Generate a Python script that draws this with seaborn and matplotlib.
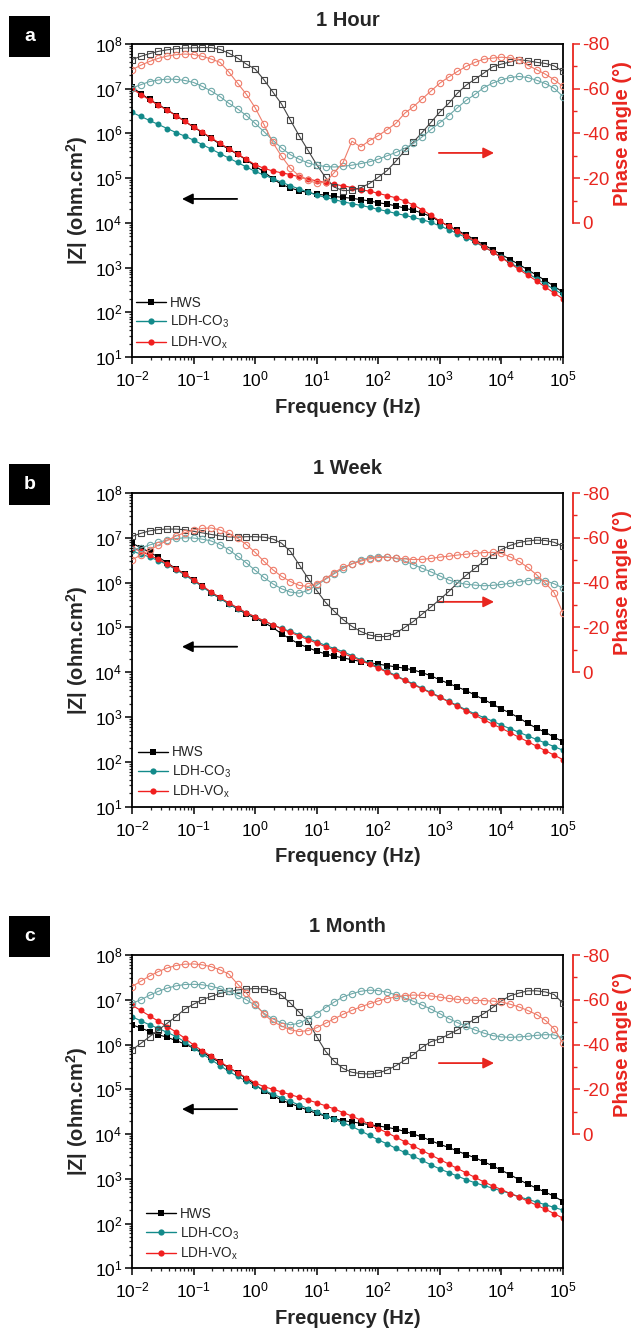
import numpy as np
import pandas as pd
import matplotlib
matplotlib.use("Agg")
import matplotlib.pyplot as plt
import seaborn as sns
from matplotlib.ticker import LogLocator, NullFormatter, FixedLocator, LogFormatterSciNotation
from matplotlib.patches import Rectangle
from matplotlib.lines import Line2D

sns.set_theme(style="ticks")
plt.rcParams["font.family"] = ["Liberation Sans", "DejaVu Sans"]
plt.rcParams["mathtext.fontset"] = "custom"
plt.rcParams["mathtext.rm"] = "Liberation Sans"
plt.rcParams["mathtext.it"] = "Liberation Sans:italic"
plt.rcParams["mathtext.bf"] = "Liberation Sans:bold"
plt.rcParams["axes.unicode_minus"] = False

# ---------------- data ----------------
FREQ = [0.01, 0.0139, 0.0193, 0.0268, 0.0373, 0.0518, 0.072,
        0.1, 0.139, 0.193, 0.268, 0.373, 0.518, 0.72,
        1, 1.39, 1.93, 2.68, 3.73, 5.18, 7.2,
        10, 13.9, 19.3, 26.8, 37.3, 51.8, 72,
        100, 139, 193, 268, 373, 518, 720,
        1000, 1390, 1930, 2680, 3730, 5180, 7200,
        10000, 13900, 19300, 26800, 37300, 51800, 72000,
        100000]

SERIES = ["HWS", "LDH-CO$_\\mathregular{3}$", "LDH-VO$_\\mathregular{x}$"]
TITLES = ["1 Hour", "1 Week", "1 Month"]
LETTERS = ["a", "b", "c"]

# log10 |Z| (ohm.cm2)
LOGZ_HWS_1H = [7.04, 6.89, 6.76, 6.64, 6.53, 6.40, 6.27,
               6.14, 6.02, 5.89, 5.76, 5.65, 5.53, 5.41,
               5.27, 5.14, 4.99, 4.86, 4.78, 4.72, 4.68,
               4.64, 4.62, 4.59, 4.57, 4.55, 4.52, 4.49,
               4.45, 4.42, 4.38, 4.33, 4.28, 4.22, 4.14,
               4.03, 3.93, 3.83, 3.73, 3.62, 3.51, 3.40,
               3.29, 3.18, 3.07, 2.95, 2.83, 2.71, 2.58,
               2.45]
LOGZ_CO3_1H = [6.47, 6.38, 6.29, 6.20, 6.11, 6.02, 5.94,
               5.85, 5.75, 5.65, 5.55, 5.45, 5.35, 5.25,
               5.15, 5.07, 4.99, 4.91, 4.83, 4.76, 4.69,
               4.62, 4.57, 4.52, 4.47, 4.43, 4.39, 4.35,
               4.30, 4.26, 4.21, 4.17, 4.12, 4.07, 4.01,
               3.93, 3.85, 3.76, 3.67, 3.57, 3.46, 3.35,
               3.23, 3.11, 2.99, 2.87, 2.75, 2.63, 2.51,
               2.40]
LOGZ_VOX_1H = [7.00, 6.87, 6.75, 6.63, 6.52, 6.40, 6.27,
               6.15, 6.03, 5.90, 5.78, 5.66, 5.54, 5.42,
               5.30, 5.22, 5.16, 5.12, 5.08, 5.03, 4.98,
               4.94, 4.90, 4.86, 4.83, 4.79, 4.74, 4.71,
               4.66, 4.61, 4.56, 4.49, 4.40, 4.29, 4.17,
               4.04, 3.92, 3.81, 3.70, 3.59, 3.47, 3.35,
               3.22, 3.09, 2.96, 2.83, 2.70, 2.56, 2.43,
               2.30]

LOGZ_HWS_1W = [6.88, 6.78, 6.68, 6.57, 6.44, 6.31, 6.19,
               6.06, 5.92, 5.77, 5.65, 5.53, 5.41, 5.30,
               5.21, 5.11, 5.00, 4.86, 4.74, 4.63, 4.55,
               4.47, 4.41, 4.36, 4.32, 4.28, 4.24, 4.21,
               4.18, 4.15, 4.12, 4.09, 4.05, 3.99, 3.92,
               3.83, 3.75, 3.67, 3.59, 3.49, 3.39, 3.29,
               3.18, 3.09, 2.98, 2.86, 2.75, 2.66, 2.55,
               2.45]
LOGZ_CO3_1W = [6.70, 6.64, 6.57, 6.49, 6.40, 6.29, 6.17,
               6.04, 5.91, 5.77, 5.65, 5.53, 5.42, 5.32,
               5.23, 5.14, 5.06, 4.98, 4.91, 4.84, 4.76,
               4.68, 4.60, 4.53, 4.46, 4.37, 4.28, 4.21,
               4.11, 4.02, 3.93, 3.83, 3.74, 3.64, 3.55,
               3.45, 3.35, 3.26, 3.16, 3.07, 2.99, 2.91,
               2.82, 2.74, 2.66, 2.58, 2.50, 2.42, 2.34,
               2.26]
LOGZ_VOX_1W = [6.78, 6.70, 6.61, 6.52, 6.42, 6.31, 6.19,
               6.06, 5.93, 5.79, 5.67, 5.55, 5.44, 5.33,
               5.24, 5.15, 5.06, 4.97, 4.89, 4.81, 4.73,
               4.65, 4.57, 4.50, 4.42, 4.34, 4.26, 4.18,
               4.09, 4.00, 3.91, 3.82, 3.72, 3.63, 3.53,
               3.44, 3.34, 3.24, 3.14, 3.04, 2.94, 2.84,
               2.75, 2.65, 2.55, 2.45, 2.35, 2.25, 2.15,
               2.05]

LOGZ_HWS_1M = [6.44, 6.37, 6.29, 6.22, 6.16, 6.09, 6.01,
               5.92, 5.83, 5.71, 5.60, 5.48, 5.37, 5.24,
               5.10, 4.96, 4.86, 4.76, 4.68, 4.61, 4.53,
               4.46, 4.40, 4.34, 4.30, 4.27, 4.24, 4.21,
               4.18, 4.15, 4.11, 4.06, 4.00, 3.93, 3.85,
               3.77, 3.70, 3.62, 3.54, 3.47, 3.38, 3.29,
               3.19, 3.09, 2.98, 2.88, 2.79, 2.70, 2.61,
               2.49]
LOGZ_CO3_1M = [6.62, 6.53, 6.44, 6.36, 6.27, 6.18, 6.06,
               5.92, 5.79, 5.66, 5.53, 5.40, 5.29, 5.18,
               5.08, 4.98, 4.89, 4.81, 4.73, 4.65, 4.57,
               4.49, 4.41, 4.33, 4.25, 4.17, 4.07, 3.97,
               3.87, 3.78, 3.68, 3.59, 3.50, 3.41, 3.31,
               3.22, 3.14, 3.06, 2.98, 2.91, 2.85, 2.79,
               2.73, 2.67, 2.60, 2.54, 2.48, 2.42, 2.36,
               2.30]
LOGZ_VOX_1M = [6.88, 6.76, 6.64, 6.52, 6.40, 6.28, 6.14,
               5.99, 5.86, 5.74, 5.62, 5.49, 5.37, 5.26,
               5.14, 5.06, 5.00, 4.94, 4.88, 4.82, 4.76,
               4.70, 4.63, 4.56, 4.48, 4.40, 4.31, 4.22,
               4.12, 4.03, 3.93, 3.83, 3.73, 3.63, 3.53,
               3.43, 3.33, 3.23, 3.13, 3.03, 2.93, 2.84,
               2.76, 2.67, 2.59, 2.50, 2.41, 2.32, 2.22,
               2.12]

# phase angle (degrees)
PHASE_HWS_1H = [-73.0, -74.5, -75.7, -76.7, -77.4, -77.9, -78.2,
                -78.3, -78.4, -78.4, -77.6, -75.9, -73.7, -71.0,
                -68.8, -64.0, -58.6, -53.2, -46.0, -39.0, -32.5,
                -26.0, -20.3, -16.0, -14.4, -14.6, -15.7, -17.6,
                -20.4, -23.4, -27.6, -32.2, -36.2, -40.5, -45.0,
                -49.6, -53.4, -58.0, -61.6, -64.3, -67.0, -69.8,
                -71.0, -72.0, -73.0, -72.5, -71.8, -71.3, -70.2,
                -67.7]
PHASE_CO3_1H = [-60.3, -61.8, -63.2, -63.9, -64.3, -64.2, -63.7,
                -62.8, -61.0, -59.0, -56.5, -53.5, -51.0, -48.0,
                -44.5, -40.8, -37.0, -33.5, -30.5, -28.5, -26.8,
                -25.8, -25.2, -25.0, -25.3, -25.8, -26.5, -27.3,
                -28.5, -30.0, -31.5, -33.3, -35.5, -38.5, -41.8,
                -44.8, -48.0, -51.5, -54.8, -57.5, -60.5, -62.5,
                -64.0, -65.0, -65.5, -65.0, -63.8, -62.3, -60.2,
                -56.5]
PHASE_VOX_1H = [-68.5, -70.5, -72.2, -73.6, -74.6, -75.2, -75.5,
                -75.3, -74.5, -73.3, -71.8, -67.5, -62.5, -57.5,
                -51.5, -44.0, -36.0, -29.8, -24.5, -21.0, -19.0,
                -17.8, -18.2, -22.5, -27.0, -36.5, -34.0, -36.8,
                -39.0, -41.7, -44.5, -49.0, -52.0, -55.5, -59.0,
                -62.5, -65.2, -67.7, -70.0, -71.8, -73.2, -73.7,
                -74.1, -73.8, -73.0, -70.5, -68.5, -66.5, -64.0,
                -61.0]

PHASE_HWS_1W = [-60.6, -62.0, -63.1, -63.7, -63.9, -63.9, -63.6,
                -62.9, -62.2, -61.5, -60.9, -60.4, -60.3, -60.5,
                -60.5, -60.3, -59.5, -57.6, -54.0, -48.0, -42.0,
                -36.5, -31.2, -27.2, -23.5, -20.5, -18.2, -16.6,
                -15.9, -16.0, -17.5, -20.0, -22.7, -26.0, -29.2,
                -32.5, -36.0, -39.8, -43.3, -46.4, -49.6, -52.4,
                -54.8, -56.6, -57.9, -58.6, -59.0, -58.8, -58.0,
                -56.2]
PHASE_CO3_1W = [-54.7, -55.5, -56.8, -58.0, -59.0, -59.7, -60.0,
                -59.9, -59.4, -58.6, -57.0, -54.7, -51.8, -48.8,
                -45.5, -42.3, -39.5, -37.3, -35.8, -35.3, -36.5,
                -38.8, -41.5, -44.0, -46.3, -48.5, -50.0, -51.2,
                -51.6, -51.5, -50.8, -49.6, -48.0, -46.4, -44.8,
                -43.0, -41.2, -40.0, -39.3, -38.9, -38.6, -38.8,
                -39.2, -39.7, -40.3, -40.9, -41.3, -40.8, -39.5,
                -37.5]
PHASE_VOX_1W = [-50.2, -52.3, -54.5, -56.8, -58.8, -60.8, -62.3,
                -63.5, -64.2, -64.4, -63.5, -62.0, -59.8, -57.0,
                -53.5, -49.5, -45.8, -42.8, -40.5, -38.8, -38.3,
                -39.5, -41.8, -44.5, -46.8, -48.3, -49.6, -50.6,
                -51.2, -51.3, -51.0, -50.6, -50.3, -50.4, -50.8,
                -51.4, -51.8, -52.3, -52.7, -53.1, -53.4, -53.5,
                -53.0, -51.5, -49.5, -46.8, -43.5, -39.8, -35.5,
                -26.4]

PHASE_HWS_1M = [-37.6, -40.5, -43.5, -46.5, -49.5, -52.5, -55.8,
                -58.0, -60.0, -61.5, -62.8, -63.7, -64.4, -64.8,
                -65.0, -64.8, -63.8, -62.0, -58.5, -54.5, -50.5,
                -43.5, -37.0, -32.5, -29.3, -27.6, -27.0, -26.8,
                -27.3, -28.6, -30.5, -33.0, -35.5, -38.8, -41.3,
                -42.5, -44.5, -46.5, -49.0, -51.5, -53.8, -56.5,
                -59.5, -61.8, -63.0, -64.0, -64.0, -63.5, -62.3,
                -58.4]
PHASE_CO3_1M = [-58.4, -60.0, -62.0, -63.8, -65.2, -66.2, -66.8,
                -66.9, -66.7, -66.0, -65.0, -63.7, -62.0, -60.0,
                -57.5, -54.0, -51.5, -49.7, -48.8, -49.5, -51.5,
                -53.8, -56.5, -59.0, -61.3, -62.7, -63.8, -64.3,
                -64.1, -63.4, -62.2, -60.8, -59.3, -57.6, -55.8,
                -53.8, -51.6, -49.8, -48.1, -46.5, -45.1, -44.0,
                -43.4, -43.2, -43.4, -43.7, -44.1, -44.4, -44.3,
                -42.8]
PHASE_VOX_1M = [-65.9, -68.3, -70.6, -72.6, -74.2, -75.3, -75.9,
                -76.0, -75.6, -74.8, -73.4, -71.5, -67.0, -63.0,
                -58.3, -53.5, -50.3, -48.3, -46.6, -45.8, -46.2,
                -47.5, -49.5, -51.5, -53.5, -55.3, -56.8, -58.2,
                -59.5, -60.5, -61.3, -61.9, -62.1, -62.0, -61.7,
                -61.2, -60.6, -60.2, -59.9, -59.8, -59.6, -59.4,
                -59.0, -58.0, -56.8, -55.2, -53.4, -50.8, -47.0,
                -40.5]

LOGZ = [[LOGZ_HWS_1H, LOGZ_CO3_1H, LOGZ_VOX_1H],
        [LOGZ_HWS_1W, LOGZ_CO3_1W, LOGZ_VOX_1W],
        [LOGZ_HWS_1M, LOGZ_CO3_1M, LOGZ_VOX_1M]]
PHASE = [[PHASE_HWS_1H, PHASE_CO3_1H, PHASE_VOX_1H],
         [PHASE_HWS_1W, PHASE_CO3_1W, PHASE_VOX_1W],
         [PHASE_HWS_1M, PHASE_CO3_1M, PHASE_VOX_1M]]

# ---------------- style ----------------
Z_COLORS = ["#000000", "#138a8a", "#f01f1f"]
P_COLORS = ["#444444", "#6fa9a9", "#ef7d6b"]
Z_MARKERS = ["s", "o", "o"]
RED = "#e8261f"

W, H = 635, 1329
L, R = 132, 563
TOPS = [44, 493, 955]
BOTS = [357, 806.7, 1268.3]
TITLE_Y = [20, 468, 927]
BOX_Y = [16, 464, 916]
BLACK_ARROW_Y = [0.505, 0.51, 0.508]
RED_ARROW_Y = [0.652, 0.653, 0.655]
LEGEND_X = [0.01, 0.013, 0.033]

fig = plt.figure(figsize=(W / 100, H / 100), dpi=100)

for i in range(3):
    top, bot = TOPS[i], BOTS[i]
    ax = fig.add_axes([L / W, 1 - bot / H, (R - L) / W, (bot - top) / H])
    ax2 = ax.twinx()

    handles = []
    for j in range(3):
        dfz = pd.DataFrame({"f": FREQ, "z": np.power(10.0, LOGZ[i][j])})
        sns.lineplot(data=dfz, x="f", y="z", ax=ax, color=Z_COLORS[j],
                     marker=Z_MARKERS[j], markersize=4.3, markeredgewidth=0,
                     linewidth=0.8, sort=False, estimator=None)
        handles.append(Line2D([], [], color=Z_COLORS[j], marker=Z_MARKERS[j],
                              markersize=4.5, markeredgewidth=0, linewidth=1.0))
        dfp = pd.DataFrame({"f": FREQ, "p": PHASE[i][j]})
        sns.lineplot(data=dfp, x="f", y="p", ax=ax2, color=P_COLORS[j],
                     marker=Z_MARKERS[j], markersize=4.6, markerfacecolor="none",
                     markeredgecolor=P_COLORS[j], markeredgewidth=0.8,
                     linewidth=0.8, sort=False, estimator=None)

    ax.set_xscale("log")
    ax.set_yscale("log")
    ax.set_xlim(1e-2, 1e5)
    ax.set_ylim(1e1, 1e8)
    ax.xaxis.set_major_locator(LogLocator(base=10, numticks=20))
    ax.yaxis.set_major_locator(LogLocator(base=10, numticks=20))
    ax.xaxis.set_minor_locator(LogLocator(base=10, subs=np.arange(2, 10), numticks=100))
    ax.yaxis.set_minor_locator(LogLocator(base=10, subs=np.arange(2, 10), numticks=100))
    ax.xaxis.set_minor_formatter(NullFormatter())
    ax.yaxis.set_minor_formatter(NullFormatter())
    ax.xaxis.set_major_formatter(LogFormatterSciNotation())
    ax.yaxis.set_major_formatter(LogFormatterSciNotation())
    ax.tick_params(which="major", direction="out", length=5, width=1.1,
                   labelsize=12.5, color="black", labelcolor="black",
                   bottom=True, left=True, top=False, right=False, pad=2)
    ax.tick_params(axis="x", which="major", pad=4)
    ax.tick_params(which="minor", direction="out", length=2.5, width=0.9,
                   bottom=True, left=True, top=False, right=False)
    for s in ["left", "bottom", "top", "right"]:
        ax.spines[s].set_color("black")
        ax.spines[s].set_linewidth(1.3)
        ax.spines[s].set_visible(True)

    ax.set_xlabel("Frequency (Hz)", fontsize=14.5, fontweight="bold",
                  va="center", ha="center")
    ax.xaxis.set_label_coords(0.5, -0.16)
    ax.set_ylabel("|Z| (ohm.cm$^\\mathbf{2}$)", fontsize=14.5, fontweight="bold",
                  va="center", ha="center", rotation=90)
    ax.yaxis.set_label_coords(-0.128, 0.5)

    # phase axis
    ax2.set_ylim(60, -80)
    ax2.yaxis.set_major_locator(FixedLocator([-80, -60, -40, -20, 0]))
    ax2.yaxis.set_minor_locator(FixedLocator([-70, -50, -30, -10]))
    for s in ["left", "bottom", "top"]:
        ax2.spines[s].set_visible(False)
    ax2.spines["right"].set_position(("outward", 7))
    ax2.spines["right"].set_bounds(-80, 0)
    ax2.spines["right"].set_color(RED)
    ax2.spines["right"].set_linewidth(1.3)
    ax2.tick_params(axis="y", which="major", direction="out", length=5, width=1.1,
                    color=RED, labelcolor=RED, labelsize=13.5, pad=2,
                    right=True, left=False)
    ax2.tick_params(axis="y", which="minor", direction="out", length=3, width=1.0,
                    color=RED, right=True, left=False)
    ax2.set_ylabel("Phase angle (°)", fontsize=14.5, fontweight="bold", color=RED,
                   va="center", ha="center", rotation=90)
    ax2.yaxis.set_label_coords(1.137, 0.714)
    ax2.set_xlabel("")

    # arrows
    ax.annotate("", xy=(0.116, BLACK_ARROW_Y[i]), xytext=(0.244, BLACK_ARROW_Y[i]),
                xycoords="axes fraction", textcoords="axes fraction",
                arrowprops=dict(arrowstyle="-|>", color="black", lw=1.3,
                                mutation_scale=16, shrinkA=0, shrinkB=0))
    ax.annotate("", xy=(0.84, RED_ARROW_Y[i]), xytext=(0.712, RED_ARROW_Y[i]),
                xycoords="axes fraction", textcoords="axes fraction",
                arrowprops=dict(arrowstyle="-|>", color=RED, lw=1.3,
                                mutation_scale=16, shrinkA=0, shrinkB=0))

    # legend
    ax.legend(handles, SERIES, loc="lower left", bbox_to_anchor=(LEGEND_X[i], 0.02),
              frameon=False, fontsize=9.8, handlelength=2.2,
              handletextpad=0.3, labelspacing=0.3, borderaxespad=0,
              borderpad=0)

    # title and panel letter
    fig.text((L + R) / 2 / W, 1 - TITLE_Y[i] / H, TITLES[i], ha="center",
             va="center", fontsize=14.5, fontweight="bold")
    fig.patches.append(Rectangle((9 / W, 1 - (BOX_Y[i] + 41) / H), 41 / W, 41 / H,
                                 transform=fig.transFigure, facecolor="black",
                                 edgecolor="none"))
    fig.text(29.5 / W, 1 - (BOX_Y[i] + 20.5) / H, LETTERS[i], ha="center",
             va="center", fontsize=14, fontweight="bold", color="white")

fig.savefig("out.png", dpi=100)
